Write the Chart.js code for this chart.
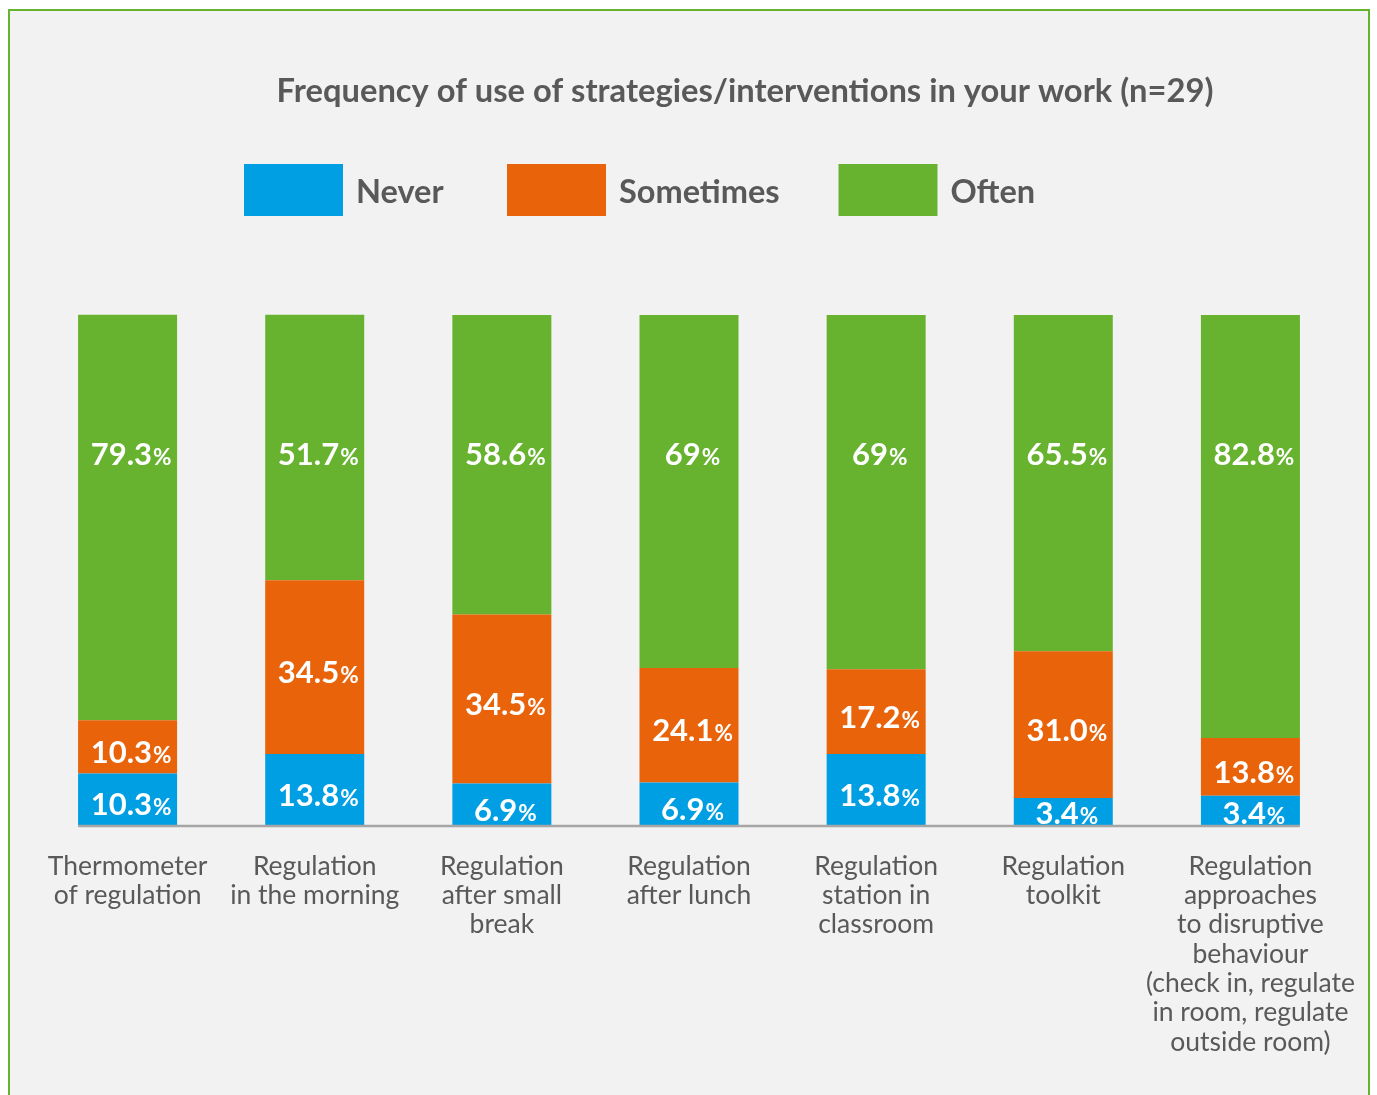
<!DOCTYPE html>
<html><head><meta charset="utf-8">
<script src="https://cdn.jsdelivr.net/npm/chart.js@4.4.1/dist/chart.umd.min.js"></script>
<style>
html,body{margin:0;padding:0;background:#fff;}
#frame{position:absolute;left:8px;top:9px;width:1358px;height:1086px;border:2px solid #66b32e;border-bottom:none;background:#f2f2f2;}
#wrap{position:relative;width:1358px;height:1084px;}
canvas{display:block}
</style></head>
<body>
<div id="frame"><div id="wrap"><canvas id="c"></canvas></div></div>
<script>
const titleText = "Frequency of use of strategies/interventions in your work (n=29)";
const categories = [
  ["Thermometer","of regulation"],
  ["Regulation","in the morning"],
  ["Regulation","after small","break"],
  ["Regulation","after lunch"],
  ["Regulation","station in","classroom"],
  ["Regulation","toolkit"],
  ["Regulation","approaches","to disruptive","behaviour","(check in, regulate","in room, regulate","outside room)"]
];
const seriesNames = ["Never","Sometimes","Often"];
// bar heights as drawn in the picture (percent of the full bar)
const never     = [10.2, 14.0, 8.2, 8.4, 14.0, 5.4, 5.8];
const sometimes = [10.4, 34.0, 33.1, 22.4, 16.6, 28.7, 11.3];
const often     = [79.4, 52.0, 58.6, 69.1, 69.3, 65.8, 82.8];
// value labels printed on the bars
const neverLabels     = ["10.3","13.8","6.9","6.9","13.8","3.4","3.4"];
const sometimesLabels = ["10.3","34.5","34.5","24.1","17.2","31.0","13.8"];
const oftenLabels     = ["79.3","51.7","58.6","69","69","65.5","82.8"];
const valueLabels = [neverLabels, sometimesLabels, oftenLabels];
const colors = ["#009fe3","#e9630a","#67b32f"];

const FONT = "Lato, 'Open Sans', sans-serif";
const TEXT = "#595959";

const decorPlugin = {
  id: 'decor',
  afterDraw(chart) {
    const ctx = chart.ctx;
    ctx.save();
    // title
    ctx.fillStyle = TEXT;
    ctx.font = "bold 32.7px " + FONT;
    ctx.textAlign = 'center';
    ctx.textBaseline = 'alphabetic';
    ctx.fillText(titleText, 735, 90.5);
    // legend
    const legendBoxes = [234, 497, 828.5];
    ctx.font = "bold 32.5px " + FONT;
    ctx.textAlign = 'left';
    chart.data.datasets.forEach((ds, i) => {
      ctx.fillStyle = ds.backgroundColor;
      ctx.fillRect(legendBoxes[i], 153, 99, 52);
      ctx.fillStyle = TEXT;
      ctx.fillText(ds.label, legendBoxes[i] + 112, 191.7);
    });
    // axis line
    const m0 = chart.getDatasetMeta(0).data;
    const first = m0[0], last = m0[m0.length - 1];
    const yb = chart.scales.y.getPixelForValue(0);
    ctx.strokeStyle = '#a6a6a6';
    ctx.lineWidth = 2.5;
    ctx.beginPath();
    ctx.moveTo(first.x - first.width / 2, yb + 0.5);
    ctx.lineTo(last.x + last.width / 2, yb + 0.5);
    ctx.stroke();
    // value labels
    chart.data.datasets.forEach((ds, di) => {
      const meta = chart.getDatasetMeta(di);
      meta.data.forEach((el, i) => {
        const txt = valueLabels[di][i];
        let cy;
        if (di === 2) cy = el.y + 139;
        else cy = Math.min((el.y + el.base) / 2 + 5, el.base - 13);
        ctx.font = "bold 31px " + FONT;
        const w1 = ctx.measureText(txt).width;
        ctx.font = "bold 22.5px " + FONT;
        const w2 = ctx.measureText('%').width;
        const x0 = el.x + 3 - (w1 + w2) / 2;
        ctx.fillStyle = '#ffffff';
        ctx.textAlign = 'left';
        ctx.textBaseline = 'alphabetic';
        ctx.font = "bold 31px " + FONT;
        ctx.fillText(txt, x0, cy + 11);
        ctx.font = "bold 22.5px " + FONT;
        ctx.fillText('%', x0 + w1 + 1, cy + 11);
      });
    });
    ctx.restore();
  }
};

new Chart(document.getElementById('c'), {
  type: 'bar',
  data: {
    labels: categories,
    datasets: [
      { label: seriesNames[0], data: never, backgroundColor: colors[0] },
      { label: seriesNames[1], data: sometimes, backgroundColor: colors[1] },
      { label: seriesNames[2], data: often, backgroundColor: colors[2] }
    ]
  },
  options: {
    responsive: true,
    maintainAspectRatio: false,
    animation: false,
    layout: { padding: { left: 24, right: 24, top: 303.5, bottom: 10 } },
    datasets: { bar: { categoryPercentage: 1, barPercentage: 0.529, borderWidth: 0 } },
    plugins: { legend: { display: false }, title: { display: false }, tooltip: { enabled: false } },
    scales: {
      x: {
        stacked: true,
        grid: { display: false, drawTicks: false },
        border: { display: false },
        ticks: {
          color: TEXT,
          font: { family: FONT, size: 26.5, lineHeight: 1.106 },
          padding: 26,
          maxRotation: 0, minRotation: 0, autoSkip: false
        },
        afterFit(scale) { scale.height = 259.5; scale.paddingLeft = 0; scale.paddingRight = 0; }
      },
      y: {
        stacked: true,
        display: false,
        min: 0, max: 100
      }
    }
  },
  plugins: [decorPlugin]
});
</script>
</body></html>
